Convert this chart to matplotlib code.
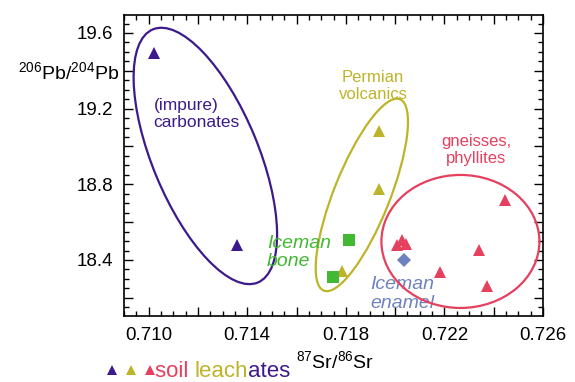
import numpy as np
import matplotlib
matplotlib.use('Agg')
import matplotlib.pyplot as plt
import matplotlib.transforms as mtransforms
from matplotlib.patches import Ellipse
from matplotlib.ticker import MultipleLocator, FuncFormatter
from matplotlib.offsetbox import HPacker, TextArea, DrawingArea, AnchoredOffsetbox
from matplotlib.lines import Line2D

plt.rcParams['font.family'] = ['Liberation Sans', 'DejaVu Sans']
plt.rcParams['mathtext.fontset'] = 'custom'
plt.rcParams['mathtext.rm'] = 'Liberation Sans'

# soil leachates, by rock type
carb_sr = [0.7102, 0.7136]
carb_pb = [19.494, 18.480]
perm_sr = [0.71933, 0.71933, 0.71784]
perm_pb = [19.080, 18.775, 18.342]
gneiss_sr = [0.72006, 0.72026, 0.72046, 0.72184, 0.72341, 0.72374, 0.72446]
gneiss_pb = [18.479, 18.506, 18.485, 18.337, 18.453, 18.263, 18.717]

# Iceman samples
bone_sr = [0.71812, 0.71747]
bone_pb = [18.506, 18.310]
enamel_sr = [0.72038]
enamel_pb = [18.400]

COLORS = {
    'carb': '#3D1A8C',
    'perm': '#BDB42A',
    'gneiss': '#E5405E',
    'bone': '#43B833',
    'enamel': '#6E82BF',
}

fig = plt.figure(figsize=(5.75, 3.82), dpi=100)
ax = fig.add_axes([0.2157, 0.1728, 0.7286, 0.7879])

ax.plot(carb_sr, carb_pb, '^', color=COLORS['carb'], ms=8, mew=0, zorder=4)
ax.plot(perm_sr, perm_pb, '^', color=COLORS['perm'], ms=8, mew=0, zorder=4)
ax.plot(gneiss_sr, gneiss_pb, '^', color=COLORS['gneiss'], ms=8, mew=0, zorder=4)
ax.plot(bone_sr, bone_pb, 's', color=COLORS['bone'], ms=8, mew=0, zorder=5)
ax.plot(enamel_sr, enamel_pb, 'D', color=COLORS['enamel'], ms=7.5, mew=0, zorder=5)

ax.set_xlim(0.709, 0.726)
ax.set_ylim(18.104, 19.695)


# field outlines, sized in pixels around a data-space centre
def field(cx, cy, w, h, angle, color):
    tr = mtransforms.Affine2D().scale(fig.dpi / 100) + \
        mtransforms.ScaledTranslation(cx, cy, ax.transData)
    ax.add_patch(Ellipse((0, 0), w, h, angle=angle, transform=tr,
                         fill=False, edgecolor=color, lw=1.6, zorder=3))


field(0.7123, 18.950, 274, 106, -67.5, COLORS['carb'])
field(0.71865, 18.744, 206, 56, 68.3, COLORS['perm'])
field(0.72265, 18.498, 158, 133, 0, COLORS['gneiss'])

# labels
ax.text(0.7102, 19.17, '(impure)\ncarbonates', color=COLORS['carb'],
        fontsize=12.5, ha='left', va='center', linespacing=1.15)
ax.text(0.71910, 19.32, 'Permian\nvolcanics', color=COLORS['perm'],
        fontsize=12, ha='center', va='center', linespacing=1.15)
ax.text(0.72330, 18.98, 'gneisses,\nphyllites', color=COLORS['gneiss'],
        fontsize=12, ha='center', va='center', linespacing=1.15)
ax.text(0.7148, 18.44, 'Iceman\nbone', color=COLORS['bone'], style='italic',
        fontsize=14, ha='left', va='center', linespacing=1.1)
ax.text(0.71900, 18.22, 'Iceman\nenamel', color=COLORS['enamel'], style='italic',
        fontsize=14, ha='left', va='center', linespacing=1.1, zorder=2)

# ticks
ax.xaxis.set_major_locator(MultipleLocator(0.002))
ax.xaxis.set_minor_locator(MultipleLocator(0.0005))
ax.yaxis.set_major_locator(MultipleLocator(0.2))
ax.yaxis.set_minor_locator(MultipleLocator(0.05))
ax.xaxis.set_major_formatter(FuncFormatter(
    lambda v, p: f'{v:.3f}' if round(v / 0.002) % 2 == 1 else ''))
ax.yaxis.set_major_formatter(FuncFormatter(
    lambda v, p: f'{v:.1f}' if round(v / 0.2) % 2 == 0 else ''))
ax.tick_params(which='both', direction='in', top=True, right=True,
               labelsize=13.5, width=1.0, pad=8)
ax.tick_params(which='major', length=6.5)
ax.tick_params(which='minor', length=3.5)
for s in ax.spines.values():
    s.set_linewidth(1.2)

fig.text(119 / 575, 1 - 73 / 382, r'$^{206}$Pb/$^{204}$Pb', fontsize=14,
         ha='right', va='center')
fig.text(296 / 575, 1 - 362 / 382, r'$^{87}$Sr/$^{86}$Sr', fontsize=14,
         ha='left', va='center')

# legend: three triangles + multicolour caption
da = DrawingArea(36, 12, 0, 0)
for i, key in enumerate(['carb', 'perm', 'gneiss']):
    da.add_artist(Line2D([5 + i * 13.7], [5], marker='^', color=COLORS[key],
                         ms=7.5, mew=0, ls='none'))
parts = [TextArea('soil ', textprops=dict(color=COLORS['gneiss'], fontsize=16)),
         TextArea('leach', textprops=dict(color=COLORS['perm'], fontsize=16)),
         TextArea('ates', textprops=dict(color=COLORS['carb'], fontsize=16))]
box = HPacker(children=[da] + parts, sep=0, align='baseline', pad=0)
anch = AnchoredOffsetbox(loc='center left', child=box, pad=0, borderpad=0,
                         frameon=False, bbox_to_anchor=(105 / 575, 1 - 371 / 382),
                         bbox_transform=fig.transFigure)
fig.add_artist(anch)

plt.savefig('out.png', dpi=100, facecolor='white')
